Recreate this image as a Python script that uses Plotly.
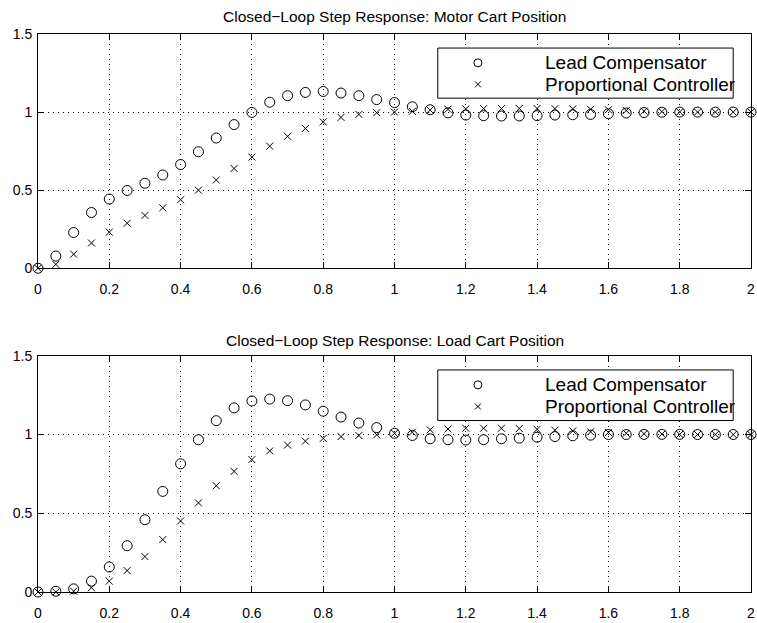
import plotly.graph_objects as go

# Sample times (s)
t = [round(0.05 * i, 2) for i in range(41)]

# Motor cart position
motor_lead = [0.0, 0.078, 0.229, 0.357, 0.443, 0.498, 0.544, 0.597, 0.664, 0.746,
              0.834, 0.920, 0.998, 1.063, 1.105, 1.126, 1.132, 1.122, 1.105, 1.080,
              1.061, 1.034, 1.015, 0.995, 0.981, 0.977, 0.975, 0.975, 0.977, 0.981,
              0.983, 0.985, 0.990, 0.994, 0.997, 0.999, 1.0, 1.0, 1.0, 1.0, 1.0]
motor_prop = [0.0, 0.025, 0.090, 0.162, 0.231, 0.288, 0.338, 0.387, 0.439, 0.500,
              0.565, 0.639, 0.712, 0.782, 0.845, 0.895, 0.937, 0.966, 0.985, 0.996,
              1.000, 1.005, 1.013, 1.018, 1.020, 1.022, 1.023, 1.023, 1.023, 1.022,
              1.020, 1.018, 1.015, 1.010, 1.006, 1.003, 1.001, 1.0, 1.0, 1.0, 1.0]

# Load cart position
load_lead = [0.0, 0.005, 0.020, 0.069, 0.159, 0.294, 0.459, 0.639, 0.814, 0.967,
             1.088, 1.169, 1.213, 1.225, 1.215, 1.188, 1.148, 1.111, 1.073, 1.044,
             1.008, 0.994, 0.973, 0.967, 0.965, 0.967, 0.973, 0.977, 0.983, 0.987,
             0.992, 0.996, 1.000, 1.000, 1.001, 1.001, 1.001, 1.0, 1.0, 1.0, 1.0]
load_prop = [0.0, 0.0, 0.005, 0.027, 0.069, 0.136, 0.225, 0.333, 0.451, 0.566,
             0.675, 0.766, 0.841, 0.896, 0.933, 0.958, 0.975, 0.987, 0.994, 0.998,
             1.008, 1.015, 1.030, 1.035, 1.040, 1.040, 1.040, 1.038, 1.033, 1.027,
             1.023, 1.017, 1.013, 1.008, 1.005, 1.003, 1.001, 1.0, 1.0, 1.0, 1.0]

titles = ["Closed\u2212Loop Step Response: Motor Cart Position",
          "Closed\u2212Loop Step Response: Load Cart Position"]
names = ["Lead Compensator", "Proportional Controller"]

x_ticks = [0, 0.2, 0.4, 0.6, 0.8, 1, 1.2, 1.4, 1.6, 1.8, 2]
x_ticktext = ["0", "0.2", "0.4", "0.6", "0.8", "1", "1.2", "1.4", "1.6", "1.8", "2"]
y_ticks = [0, 0.5, 1, 1.5]
y_ticktext = ["0", "0.5", "1", "1.5"]

FONT = "Liberation Sans, Arial, Helvetica, sans-serif"
X_MAX, Y_MAX = 2.0, 1.5

# Marker styles shared by the data series and their legend keys
styles = [
    dict(symbol="circle-open", size=10, color="black", line=dict(width=1, color="black")),
    dict(symbol="x-thin-open", size=7, color="black", line=dict(width=1, color="black")),
]
key_styles = [
    dict(symbol="circle-open", size=8, color="black", line=dict(width=1, color="black")),
    dict(symbol="x-thin-open", size=6, color="black", line=dict(width=1, color="black")),
]

# Boxed legend placement, as fractions of each panel's axis extent
LEG_BOX = dict(x0=0.5607, x1=0.975, y0=0.726, y1=0.94)
LEG_KEY_X = 0.617
LEG_TEXT_X = 0.710
LEG_ROWS = [0.877, 0.785]

fig = go.Figure()
annotations = []
shapes = []

panels = [
    ("x", "y", [motor_lead, motor_prop]),
    ("x2", "y2", [load_lead, load_prop]),
]
for xa, ya, series in panels:
    for values, name, st in zip(series, names, styles):
        fig.add_trace(go.Scatter(
            x=t, y=values, mode="markers", name=name, xaxis=xa, yaxis=ya,
            marker=st, cliponaxis=False, showlegend=False,
        ))
    # legend box (covers the grid, sits under the keys), keys and labels
    shapes.append(dict(type="rect", xref=xa, yref=ya,
                       x0=LEG_BOX["x0"] * X_MAX, x1=LEG_BOX["x1"] * X_MAX,
                       y0=LEG_BOX["y0"] * Y_MAX, y1=LEG_BOX["y1"] * Y_MAX,
                       line=dict(color="black", width=1), fillcolor="white", layer="between"))
    for name, kst, row in zip(names, key_styles, LEG_ROWS):
        fig.add_trace(go.Scatter(
            x=[LEG_KEY_X * X_MAX], y=[row * Y_MAX], mode="markers", xaxis=xa, yaxis=ya,
            marker=kst, showlegend=False, hoverinfo="skip", cliponaxis=False,
        ))
        annotations.append(dict(text=name, xref=xa, yref=ya,
                                x=LEG_TEXT_X * X_MAX, y=row * Y_MAX, xanchor="left", yanchor="middle",
                                showarrow=False, borderpad=0,
                                font=dict(family=FONT, size=19, color="black")))

axis_common = dict(
    showline=True, linecolor="black", linewidth=1, mirror="ticks",
    ticks="inside", ticklen=6, tickcolor="black", tickwidth=1,
    showgrid=True, gridcolor="black", gridwidth=1, griddash="1px,4px",
    zeroline=False, tickfont=dict(family=FONT, size=14, color="black"),
    tickmode="array", ticklabeloverflow="allow",
)

annotations += [
    dict(text=titles[0], x=0.5, y=1.0317, xref="paper", yref="paper", showarrow=False,
         xanchor="center", yanchor="middle", font=dict(family=FONT, size=15.5, color="black")),
    dict(text=titles[1], x=0.5, y=0.4515, xref="paper", yref="paper", showarrow=False,
         xanchor="center", yanchor="middle", font=dict(family=FONT, size=15.5, color="black")),
]

fig.update_layout(
    width=757, height=623,
    margin=dict(l=38, r=2, t=34, b=22),
    paper_bgcolor="white", plot_bgcolor="white",
    font=dict(family=FONT, color="black"),
    showlegend=False,
    xaxis=dict(domain=[0, 1], range=[0, X_MAX], anchor="y", tickvals=x_ticks, ticktext=x_ticktext,
               ticklabelstandoff=8, **axis_common),
    yaxis=dict(domain=[0.5802, 1], range=[0, Y_MAX], anchor="x", tickvals=y_ticks, ticktext=y_ticktext,
               ticklabelstandoff=2, **axis_common),
    xaxis2=dict(domain=[0, 1], range=[0, X_MAX], anchor="y2", tickvals=x_ticks, ticktext=x_ticktext,
                ticklabelstandoff=8, **axis_common),
    yaxis2=dict(domain=[0, 0.4233], range=[0, Y_MAX], anchor="x2", tickvals=y_ticks, ticktext=y_ticktext,
                ticklabelstandoff=2, **axis_common),
    shapes=shapes,
    annotations=annotations,
)

fig.write_html("out.html")
